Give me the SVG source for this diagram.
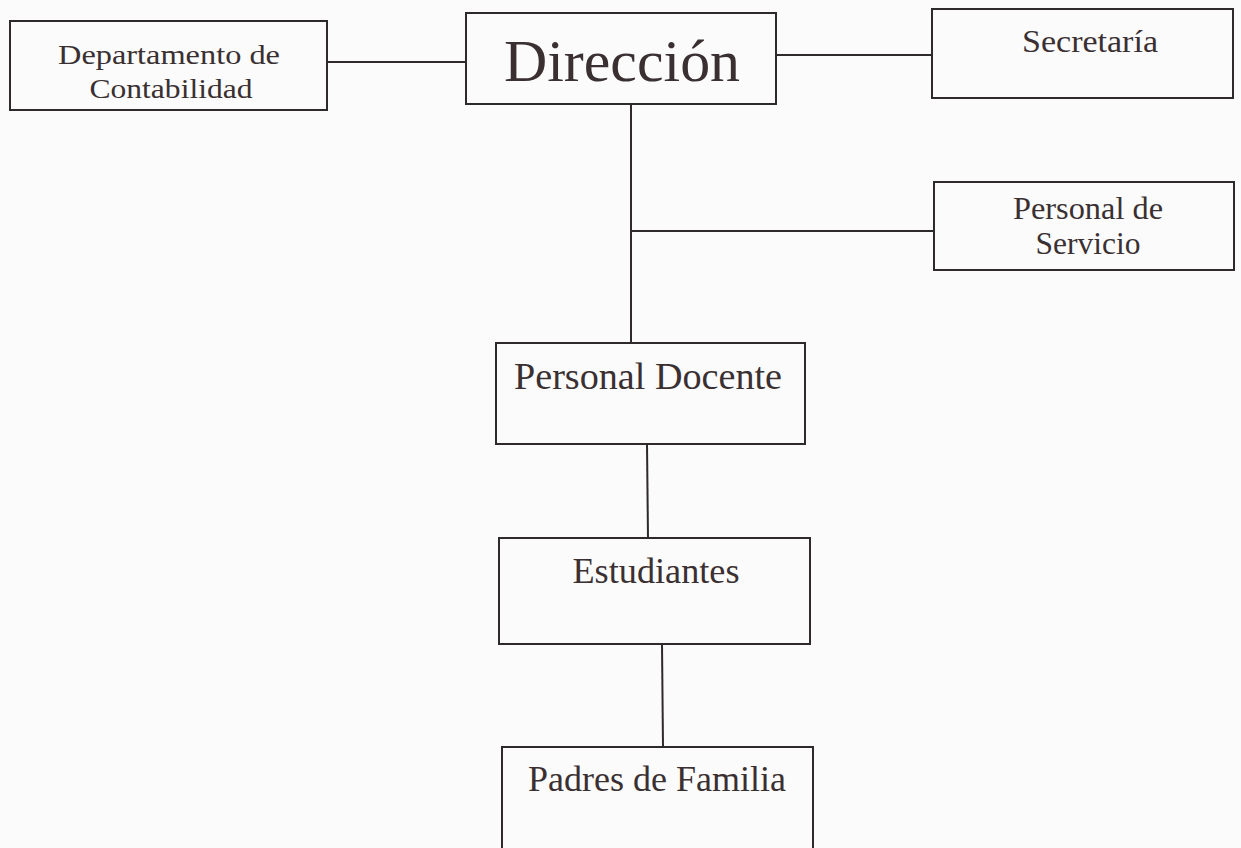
<svg xmlns="http://www.w3.org/2000/svg" width="1241" height="848" viewBox="0 0 1241 848">
<style>
.box{fill:none;stroke:#2e2a2c;stroke-width:2}
.ln{stroke:#2e2a2c;stroke-width:2;fill:none}
text{font-family:"Liberation Serif","Times New Roman",serif;fill:#3a3032;text-anchor:middle}
</style>
<rect width="1241" height="848" fill="#fbfbfb"/>
<g id="connectors">
<line class="ln" x1="327" y1="62" x2="466" y2="62"/>
<line class="ln" x1="776" y1="55" x2="932" y2="55"/>
<line class="ln" x1="631" y1="104" x2="631" y2="343"/>
<line class="ln" x1="631" y1="231" x2="934" y2="231"/>
<line class="ln" x1="647" y1="444" x2="648" y2="538"/>
<line class="ln" x1="662" y1="644" x2="663" y2="747"/>
</g>
<g id="departamento">
<rect class="box" x="10" y="21" width="317" height="89"/>
<text x="169" y="64" font-size="28" textLength="222" lengthAdjust="spacingAndGlyphs">Departamento de</text>
<text x="171" y="98" font-size="28" textLength="163" lengthAdjust="spacingAndGlyphs">Contabilidad</text>
</g>
<g id="direccion">
<rect class="box" x="466" y="13" width="310" height="91"/>
<text x="622" y="81" font-size="60" textLength="236" lengthAdjust="spacingAndGlyphs">Dirección</text>
</g>
<g id="secretaria">
<rect class="box" x="932" y="9" width="301" height="89"/>
<text x="1090" y="52" font-size="32" textLength="136" lengthAdjust="spacingAndGlyphs">Secretaría</text>
</g>
<g id="servicio">
<rect class="box" x="934" y="182" width="300" height="88"/>
<text x="1088" y="219" font-size="32" textLength="150" lengthAdjust="spacingAndGlyphs">Personal de</text>
<text x="1088" y="254" font-size="32" textLength="105" lengthAdjust="spacingAndGlyphs">Servicio</text>
</g>
<g id="docente">
<rect class="box" x="496" y="343" width="309" height="101"/>
<text x="648" y="389" font-size="37" textLength="268" lengthAdjust="spacingAndGlyphs">Personal Docente</text>
</g>
<g id="estudiantes">
<rect class="box" x="499" y="538" width="311" height="106"/>
<text x="656" y="583" font-size="35" textLength="167" lengthAdjust="spacingAndGlyphs">Estudiantes</text>
</g>
<g id="padres">
<rect class="box" x="502" y="747" width="311" height="110"/>
<text x="657" y="791" font-size="35" textLength="258" lengthAdjust="spacingAndGlyphs">Padres de Familia</text>
</g>
</svg>
